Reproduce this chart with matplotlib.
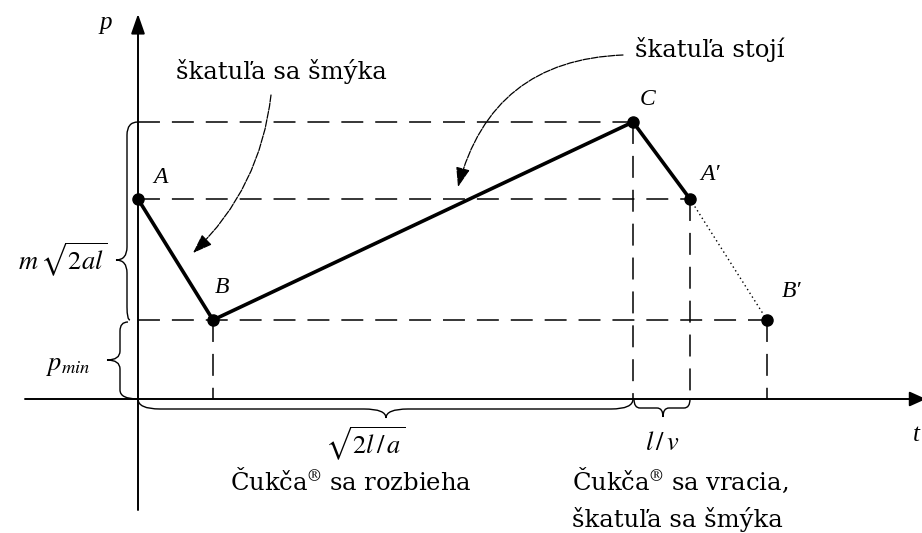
import matplotlib
matplotlib.use("Agg")
import matplotlib.pyplot as plt
from matplotlib.path import Path
from matplotlib.patches import PathPatch, FancyArrowPatch

plt.rcParams['font.family'] = ['DejaVu Serif']
plt.rcParams['mathtext.fontset'] = 'stix'
plt.rcParams['lines.scale_dashes'] = False

# Momentum p of the box versus time t
point_names = ['A', 'B', 'C', 'A\u2032', 'B\u2032']
t_vals = [0.0, 7.5, 49.5, 55.2, 62.9]
p_vals = [20.0, 7.9, 27.7, 20.0, 7.9]

# brace annotations: (start, end, tip position)
p_brace_upper = (27.7, 7.9, 13.9)
p_brace_lower = (7.7, 0.0, 3.9)
t_brace_run = (0.0, 49.5, 24.8)
t_brace_back = (49.6, 55.2, 52.5)

label_run = r'$\sqrt{2l\,/\,a}$'
label_back = r'$l\,/\,v$'
label_dp = r'$m\,\sqrt{2al}$'
label_pmin = r'$p_{min}$'

fig = plt.figure(figsize=(9.22, 5.33), dpi=100)
ax = fig.add_axes([0, 0, 1, 1])
ax.set_xlim(-13.8, 78.4)
ax.set_ylim(-13.4, 39.9)
ax.axis('off')

K = 'black'
FS = 17.5

# axes with arrow heads
ax.add_patch(FancyArrowPatch((0, -11.1), (0, 38.5), arrowstyle='-|>,head_length=12,head_width=4.2',
                             mutation_scale=1, lw=1.4, color=K, shrinkA=0, shrinkB=0))
ax.add_patch(FancyArrowPatch((-11.3, 0), (78.8, 0), arrowstyle='-|>,head_length=10,head_width=4.5',
                             mutation_scale=1, lw=1.4, color=K, shrinkA=0, shrinkB=0))
ax.text(-3.2, 37.6, 'p', fontsize=18, fontstyle='italic', family='Liberation Serif',
        ha='center', va='center')
ax.text(77.8, -3.6, 't', fontsize=18, fontstyle='italic', family='Liberation Serif',
        ha='center', va='center')

# dashed guide lines
dash = dict(color=K, lw=1.1, dashes=(15.8, 8.6))
tA, tB, tC, tA2, tB2 = t_vals
pA, pB, pC, pA2, pB2 = p_vals
ax.plot([0, tC], [pC, pC], **dash)
ax.plot([0, tA2], [pA, pA], **dash)
ax.plot([0, tB2], [pB, pB], **dash)
for t, p in zip(t_vals[1:], p_vals[1:]):
    ax.plot([t, t], [p, 0], **dash)

# the momentum curve
ax.plot(t_vals[:4], p_vals[:4], color=K, lw=2.6, solid_capstyle='round')
ax.plot(t_vals[3:], p_vals[3:], color=K, lw=1.0, dashes=(1.0, 2.2))
ax.plot(t_vals, p_vals, 'o', color=K, ms=8, zorder=5)

label_offsets = [(2.2, 2.1), (0.9, 3.2), (1.5, 2.2), (2.0, 2.4), (2.5, 2.8)]
for name, t, p, (dx, dy) in zip(point_names, t_vals, p_vals, label_offsets):
    ax.text(t + dx, p + dy, name, fontsize=17, fontstyle='italic', family='Liberation Serif',
            ha='center', va='center')


def brace(u0, u1, um, e, d, r, orient, base0=0.0, base1=0.0):
    s = 1 if u1 > u0 else -1
    pts = [(u0, base0), (u0, e), (u0 + s * r, e), (um - s * r, e),
           (um, e), (um, d), (um, e), (um + s * r, e), (u1 - s * r, e),
           (u1, e), (u1, base1)]
    codes = [Path.MOVETO, Path.CURVE3, Path.CURVE3, Path.LINETO,
             Path.CURVE3, Path.CURVE3, Path.CURVE3, Path.CURVE3, Path.LINETO,
             Path.CURVE3, Path.CURVE3]
    if orient == 'left':
        xy = [(-v, u) for u, v in pts]
    else:
        xy = [(u, -v) for u, v in pts]
    ax.add_patch(PathPatch(Path(xy, codes), fill=False, lw=1.0, color=K))


brace(*p_brace_upper, e=1.1, d=2.2, r=1.3, orient='left', base1=0.8)
brace(*p_brace_lower, e=1.8, d=3.1, r=0.9, orient='left', base0=1.0)
brace(*t_brace_run, e=1.0, d=1.9, r=2.2, orient='bottom')
brace(*t_brace_back, e=0.9, d=1.8, r=0.6, orient='bottom')

ax.text(-3.1, 13.9, label_dp, fontsize=19, ha='right', va='center')
ax.text(-7.0, 3.3, label_pmin, fontsize=19, ha='center', va='center')
ax.text(22.7, -4.5, label_run, fontsize=19, ha='center', va='center')
ax.text(52.4, -4.4, label_back, fontsize=19, ha='center', va='center')

# descriptive captions
ax.text(21.3, -8.2, r'Čukča$^{\circledR}$ sa rozbieha', fontsize=FS, ha='center', va='center')
ax.text(43.4, -8.1, r'Čukča$^{\circledR}$ sa vracia,', fontsize=FS, ha='left', va='center')
ax.text(43.4, -12.1, 'škatuľa sa šmýka', fontsize=FS, ha='left', va='center')
ax.text(14.3, 32.7, 'škatuľa sa šmýka', fontsize=FS, ha='center', va='center')
ax.text(57.2, 34.9, 'škatuľa stojí', fontsize=FS, ha='center', va='center')

curve = dict(arrowstyle='-|>,head_length=12,head_width=4.3', mutation_scale=1,
             lw=0.9, color=K, shrinkA=0, shrinkB=0, linestyle=(0, (5, 1)))
ax.add_patch(FancyArrowPatch((13.3, 30.4), (5.5, 14.6),
                             connectionstyle='arc3,rad=-0.18', **curve))
ax.add_patch(FancyArrowPatch((48.5, 34.4), (32.0, 21.2),
                             connectionstyle='arc3,rad=0.37', **curve))

fig.savefig('out.png', dpi=100)
